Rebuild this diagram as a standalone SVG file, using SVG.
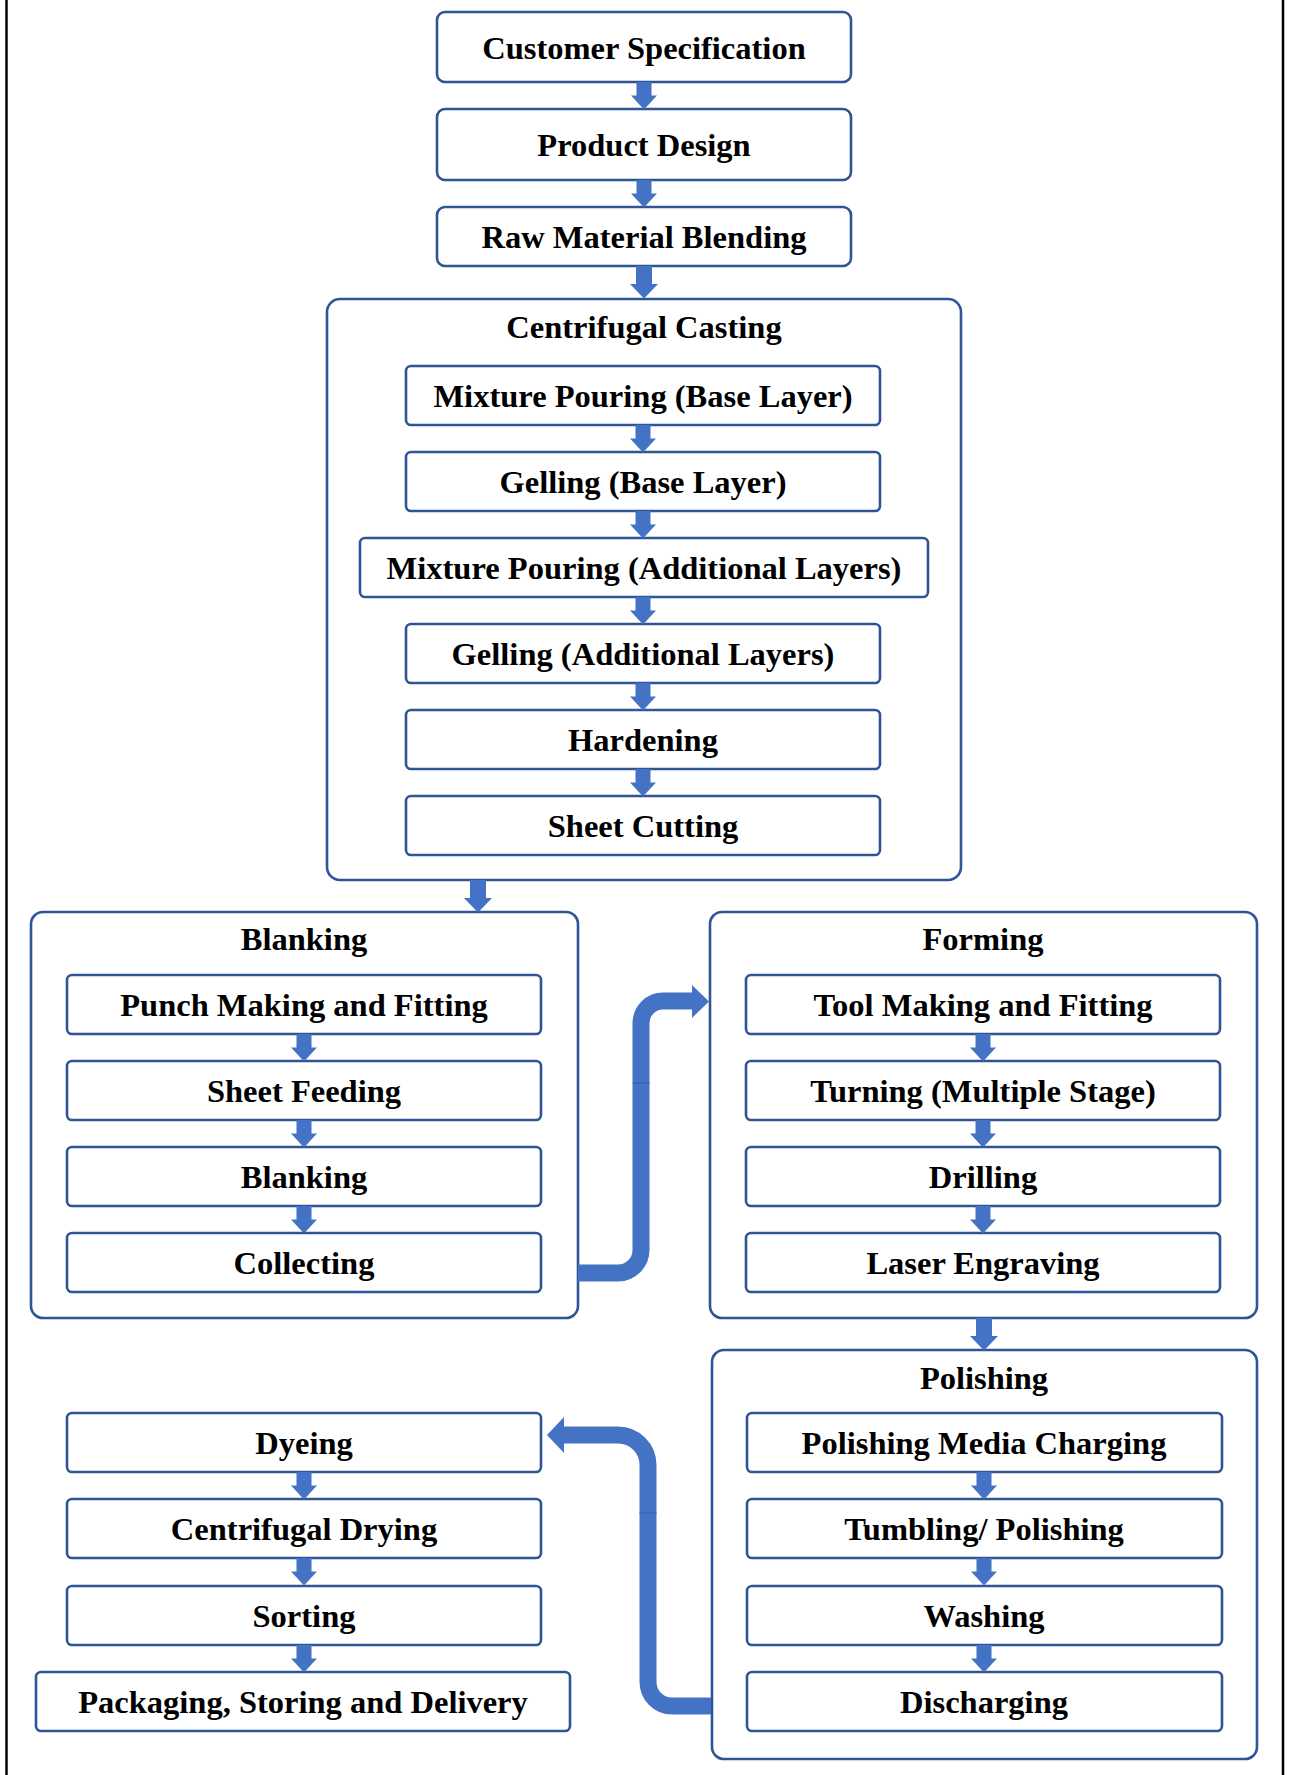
<svg xmlns="http://www.w3.org/2000/svg" xmlns:xlink="http://www.w3.org/1999/xlink" width="1289" height="1775" viewBox="0 0 1289 1775">
<style>
.box{fill:#fff;stroke:#2F5597;stroke-width:2.6}
.t{font-family:"Liberation Serif","Times New Roman",serif;font-weight:bold;font-size:32.5px;fill:#000;text-anchor:middle}
.ar{fill:#4472C4}
.bend{fill:none;stroke:#4472C4;stroke-width:17}
.seam{stroke:#3A62AA;stroke-width:1.2}
.frame{stroke:#000;stroke-width:2.5}
</style>
<defs>
<path id="a" class="ar" d="M-7.5,0 H7.5 V13.5 H13 L0,27.5 L-13,13.5 H-7.5 Z"/>
<path id="aL" class="ar" d="M-8,0 H8 V18 H14 L0,32.5 L-14,18 H-8 Z"/>
</defs>
<rect width="1289" height="1775" fill="#fff"/>
<line class="frame" x1="6.5" y1="0" x2="6.5" y2="1775"/>
<line class="frame" x1="1283" y1="0" x2="1283" y2="1775"/>

<g id="customer-specification"><rect class="box" x="437" y="12" width="414" height="70" rx="8"/><text class="t" x="644" y="59">Customer Specification</text></g>
<g id="product-design"><rect class="box" x="437" y="109" width="414" height="71" rx="8"/><text class="t" x="644" y="156">Product Design</text></g>
<g id="raw-material-blending"><rect class="box" x="437" y="207" width="414" height="59" rx="8"/><text class="t" x="644" y="248">Raw Material Blending</text></g>

<g id="centrifugal-casting"><rect class="box" x="327" y="299" width="634" height="581" rx="13"/><text class="t" x="644" y="338">Centrifugal Casting</text></g>
<g id="mixture-pouring-base"><rect class="box" x="406" y="366" width="474" height="59" rx="5"/><text class="t" x="643" y="407">Mixture Pouring (Base Layer)</text></g>
<g id="gelling-base"><rect class="box" x="406" y="452" width="474" height="59" rx="5"/><text class="t" x="643" y="493">Gelling (Base Layer)</text></g>
<g id="mixture-pouring-additional"><rect class="box" x="360" y="538" width="568" height="59" rx="5"/><text class="t" x="644" y="579">Mixture Pouring (Additional Layers)</text></g>
<g id="gelling-additional"><rect class="box" x="406" y="624" width="474" height="59" rx="5"/><text class="t" x="643" y="665">Gelling (Additional Layers)</text></g>
<g id="hardening"><rect class="box" x="406" y="710" width="474" height="59" rx="5"/><text class="t" x="643" y="751">Hardening</text></g>
<g id="sheet-cutting"><rect class="box" x="406" y="796" width="474" height="59" rx="5"/><text class="t" x="643" y="837">Sheet Cutting</text></g>

<g id="blanking-group"><rect class="box" x="31" y="912" width="547" height="406" rx="12"/><text class="t" x="304" y="950">Blanking</text></g>
<g id="punch-making"><rect class="box" x="67" y="975" width="474" height="59" rx="5"/><text class="t" x="304" y="1016">Punch Making and Fitting</text></g>
<g id="sheet-feeding"><rect class="box" x="67" y="1061" width="474" height="59" rx="5"/><text class="t" x="304" y="1102">Sheet Feeding</text></g>
<g id="blanking"><rect class="box" x="67" y="1147" width="474" height="59" rx="5"/><text class="t" x="304" y="1188">Blanking</text></g>
<g id="collecting"><rect class="box" x="67" y="1233" width="474" height="59" rx="5"/><text class="t" x="304" y="1274">Collecting</text></g>

<g id="forming-group"><rect class="box" x="710" y="912" width="547" height="406" rx="12"/><text class="t" x="983" y="950">Forming</text></g>
<g id="tool-making"><rect class="box" x="746" y="975" width="474" height="59" rx="5"/><text class="t" x="983" y="1016">Tool Making and Fitting</text></g>
<g id="turning"><rect class="box" x="746" y="1061" width="474" height="59" rx="5"/><text class="t" x="983" y="1102">Turning (Multiple Stage)</text></g>
<g id="drilling"><rect class="box" x="746" y="1147" width="474" height="59" rx="5"/><text class="t" x="983" y="1188">Drilling</text></g>
<g id="laser-engraving"><rect class="box" x="746" y="1233" width="474" height="59" rx="5"/><text class="t" x="983" y="1274">Laser Engraving</text></g>

<g id="polishing-group"><rect class="box" x="712" y="1350" width="545" height="409" rx="12"/><text class="t" x="984" y="1389">Polishing</text></g>
<g id="media-charging"><rect class="box" x="747" y="1413" width="475" height="59" rx="5"/><text class="t" x="984" y="1454">Polishing Media Charging</text></g>
<g id="tumbling"><rect class="box" x="747" y="1499" width="475" height="59" rx="5"/><text class="t" x="984" y="1540">Tumbling/ Polishing</text></g>
<g id="washing"><rect class="box" x="747" y="1586" width="475" height="59" rx="5"/><text class="t" x="984" y="1627">Washing</text></g>
<g id="discharging"><rect class="box" x="747" y="1672" width="475" height="59" rx="5"/><text class="t" x="984" y="1713">Discharging</text></g>

<g id="dyeing"><rect class="box" x="67" y="1413" width="474" height="59" rx="5"/><text class="t" x="304" y="1454">Dyeing</text></g>
<g id="centrifugal-drying"><rect class="box" x="67" y="1499" width="474" height="59" rx="5"/><text class="t" x="304" y="1540">Centrifugal Drying</text></g>
<g id="sorting"><rect class="box" x="67" y="1586" width="474" height="59" rx="5"/><text class="t" x="304" y="1627">Sorting</text></g>
<g id="packaging"><rect class="box" x="36" y="1672" width="534" height="59" rx="5"/><text class="t" x="303" y="1713">Packaging, Storing and Delivery</text></g>

<g id="connectors">
<use xlink:href="#a" transform="translate(644,82)"/>
<use xlink:href="#a" transform="translate(644,180)"/>
<use xlink:href="#aL" transform="translate(644,266)"/>
<use xlink:href="#a" transform="translate(643,425)"/>
<use xlink:href="#a" transform="translate(643,511)"/>
<use xlink:href="#a" transform="translate(643,597)"/>
<use xlink:href="#a" transform="translate(643,683)"/>
<use xlink:href="#a" transform="translate(643,769)"/>
<use xlink:href="#aL" transform="translate(478,880)"/>
<use xlink:href="#a" transform="translate(304,1034)"/>
<use xlink:href="#a" transform="translate(304,1120)"/>
<use xlink:href="#a" transform="translate(304,1206)"/>
<use xlink:href="#a" transform="translate(983,1034)"/>
<use xlink:href="#a" transform="translate(983,1120)"/>
<use xlink:href="#a" transform="translate(983,1206)"/>
<use xlink:href="#aL" transform="translate(984,1318)"/>
<use xlink:href="#a" transform="translate(984,1472)"/>
<use xlink:href="#a" transform="translate(984,1558)"/>
<use xlink:href="#a" transform="translate(984,1645)"/>
<use xlink:href="#a" transform="translate(304,1472)"/>
<use xlink:href="#a" transform="translate(304,1558)"/>
<use xlink:href="#a" transform="translate(304,1645)"/>
<path class="bend" d="M578,1273 H618 A23,23 0 0 0 641,1250 V1023 A22,22 0 0 1 663,1001 H693"/>
<polygon class="ar" points="692,985 709,1001.5 692,1018"/>
<line class="seam" x1="632.5" y1="1083" x2="649.5" y2="1083"/>
<path class="bend" d="M711,1706 H672 A24,24 0 0 1 648,1682 V1465 A30,30 0 0 0 618,1435 H562"/>
<polygon class="ar" points="564,1417 547,1435 564,1453"/>
<line class="seam" x1="639.5" y1="1513" x2="656.5" y2="1513"/>
</g>
</svg>
